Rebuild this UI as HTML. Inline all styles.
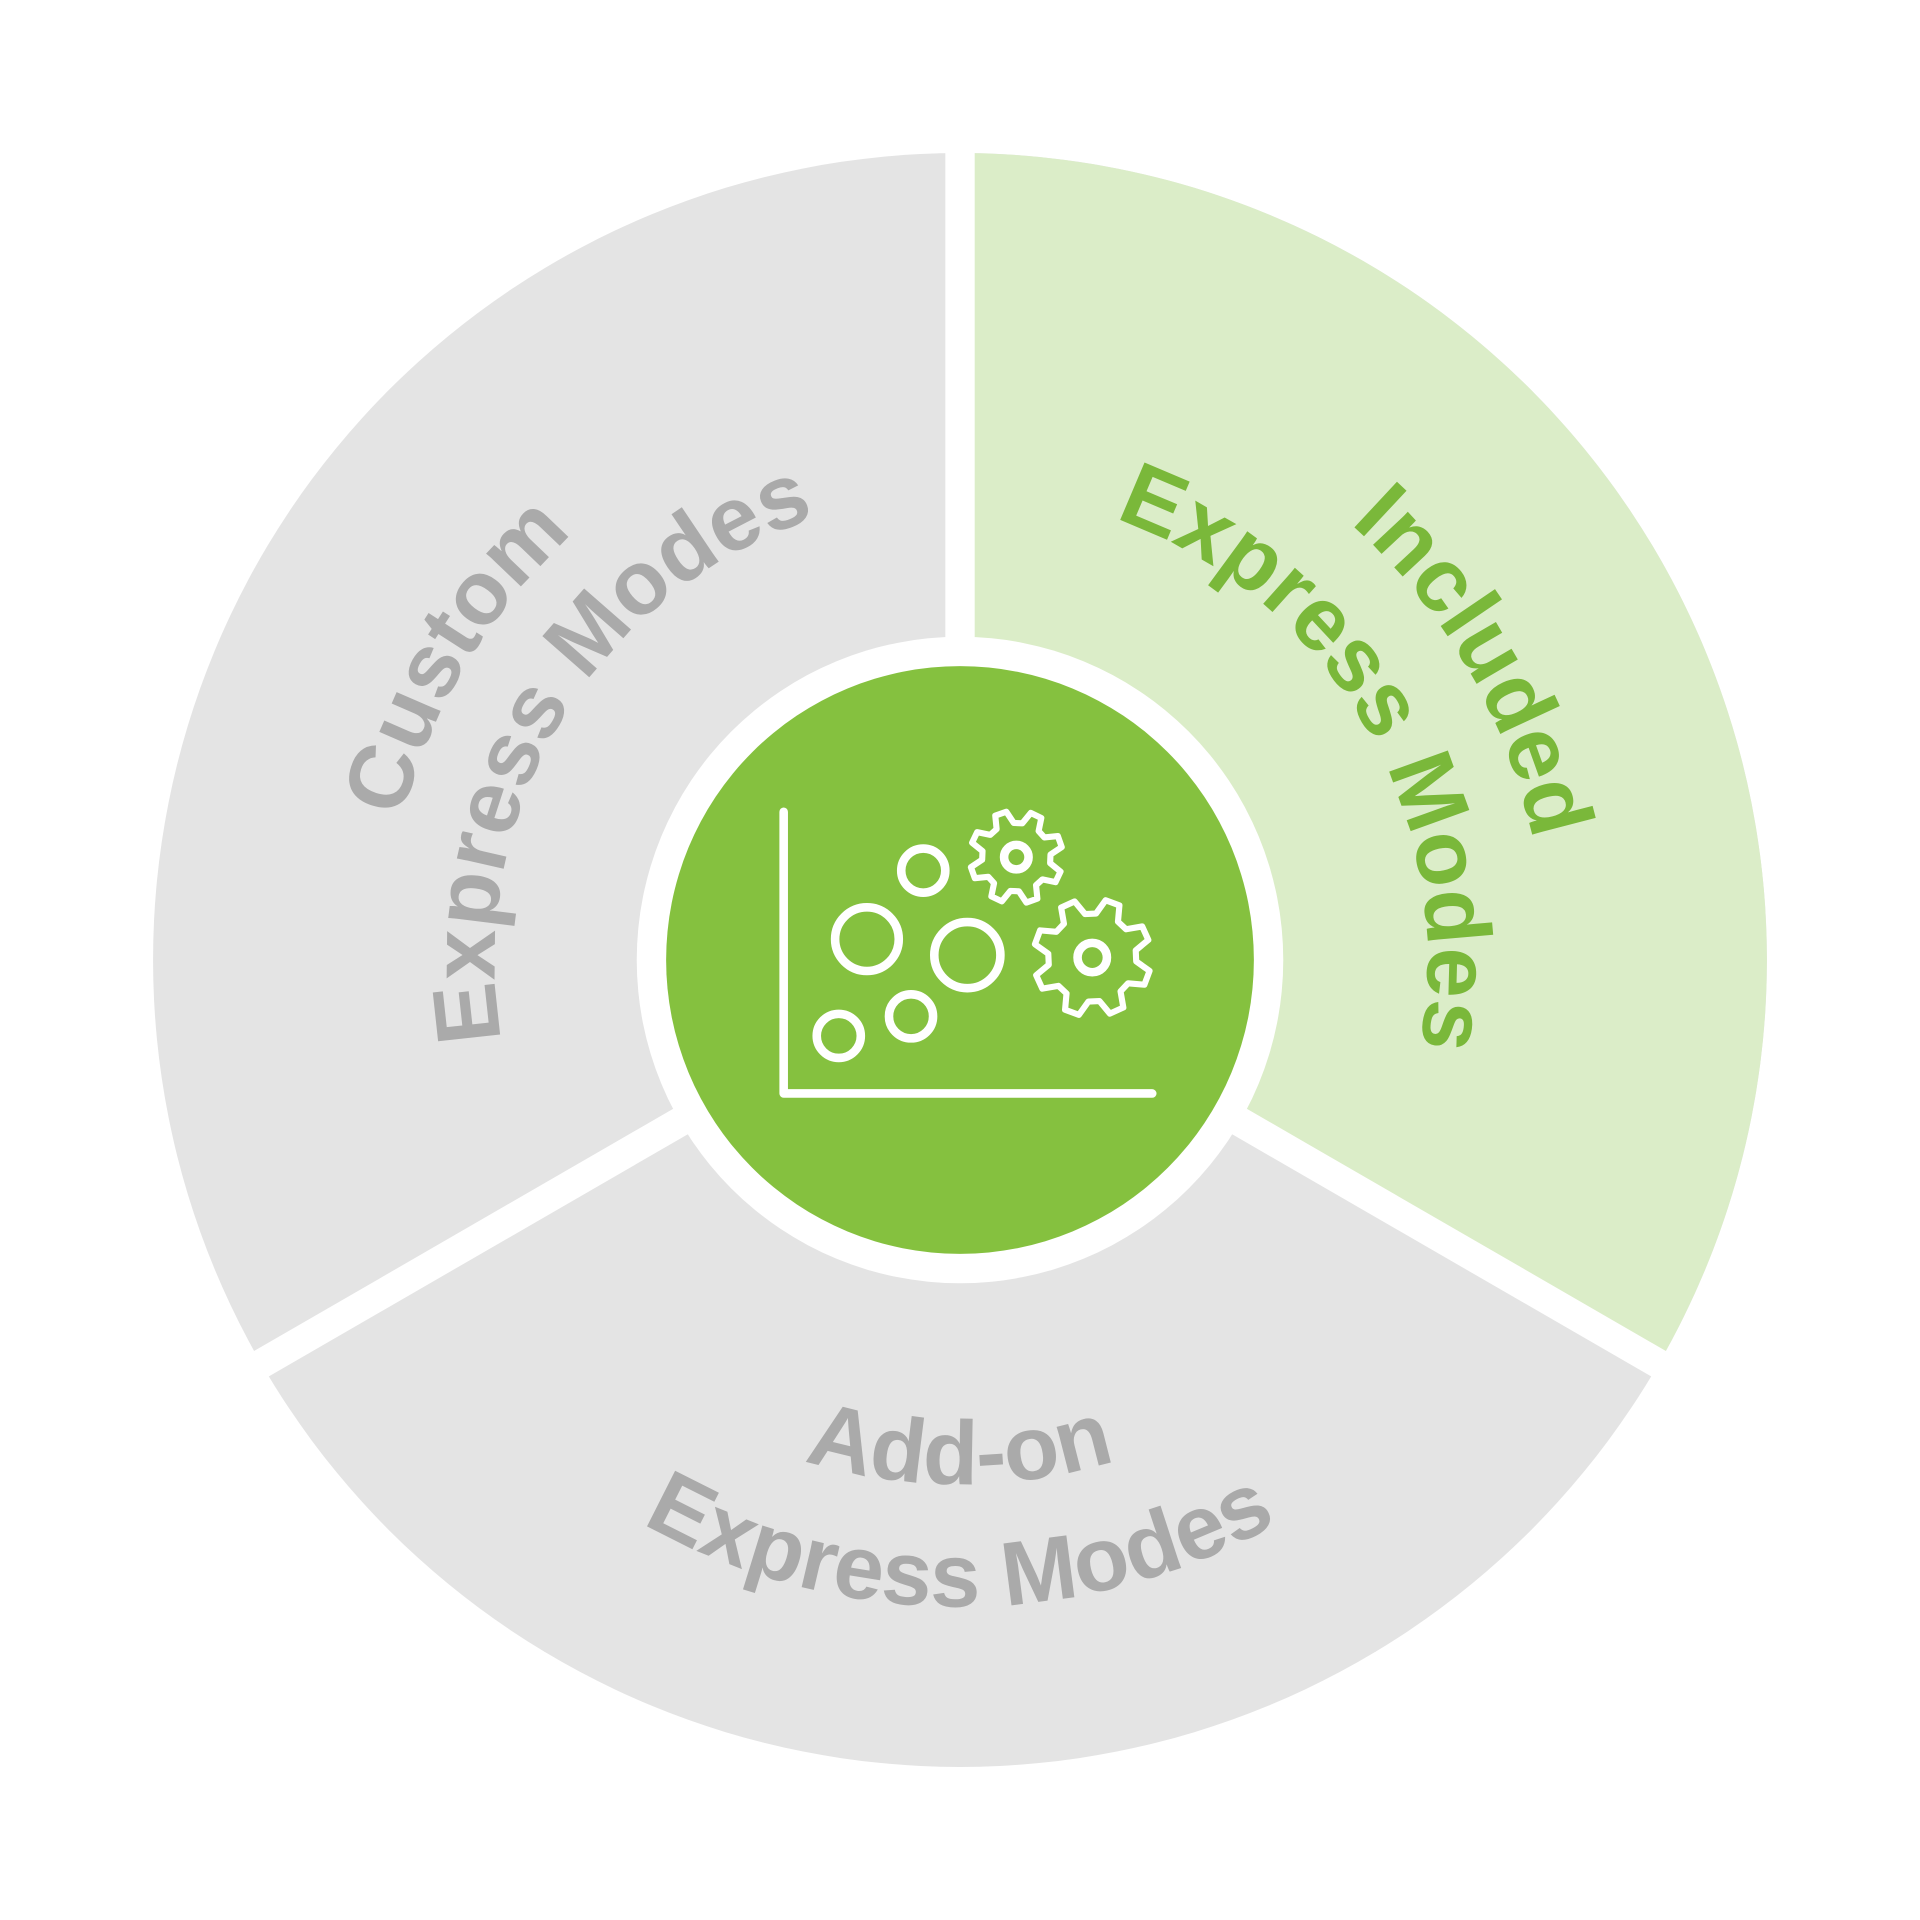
<!DOCTYPE html>
<html><head><meta charset="utf-8"><style>html,body{margin:0;padding:0;background:#fff}svg{display:block}</style></head>
<body>
<svg id="s" width="1920" height="1920" viewBox="0 0 1568 1568" xmlns="http://www.w3.org/2000/svg">
<circle cx="784" cy="784" r="659" fill="#e4e4e4"/>
<path d="M784 784 L784 125 A659 659 0 0 1 1354.7 1113.5 Z" fill="#dbedc8"/>
<circle cx="784" cy="784" r="264" fill="#fff"/>
<g stroke="#fff" stroke-width="24">
<line x1="784" y1="784" x2="784" y2="100"/>
<line x1="784" y1="784" x2="1400" y2="1140"/>
<line x1="784" y1="784" x2="168" y2="1140"/>
</g>
<circle cx="784" cy="784" r="240" fill="#85c13f"/>
<g font-family="'Liberation Sans',sans-serif" font-weight="bold" font-size="74" text-anchor="middle">
<text fill="#aaaaaa"><textPath href="#c1" startOffset="50%">Custom</textPath></text>
<text fill="#aaaaaa"><textPath href="#c2" startOffset="50%">Express Modes</textPath></text>
<text fill="#7ab83a"><textPath href="#i1" startOffset="50%">Included</textPath></text>
<text fill="#7ab83a"><textPath href="#i2" startOffset="50%">Express Modes</textPath></text>
<text fill="#aaaaaa"><textPath href="#b1" startOffset="50%">Add-on</textPath></text>
<text fill="#aaaaaa"><textPath href="#b2" startOffset="50%">Express Modes</textPath></text>
</g>
<g id="icon" fill="none" stroke="#fff" stroke-width="7" stroke-linecap="round" stroke-linejoin="round">
<polyline points="640,663 640,893 941,893"/>
<circle cx="685" cy="846" r="18"/>
<circle cx="744" cy="830" r="18"/>
<circle cx="708" cy="767" r="26"/>
<circle cx="790" cy="780" r="27"/>
<circle cx="754" cy="711" r="18"/>
<circle cx="830" cy="700" r="10"/>
<circle cx="892" cy="782" r="12"/>
<path id="g1" stroke-width="5"/>
<path id="g2" stroke-width="5"/>
</g>
<path id="c1" fill="none"/><path id="c2" fill="none"/><path id="i1" fill="none"/><path id="i2" fill="none"/><path id="b1" fill="none"/><path id="b2" fill="none"/>
</svg>
<script>
function P(a,r){a=a*Math.PI/180;return [(784+r*Math.cos(a)).toFixed(1),(784+r*Math.sin(a)).toFixed(1)];}
function arc(c,span,r,cw){var a0=cw?c-span/2:c+span/2,a1=cw?c+span/2:c-span/2;var p0=P(a0,r),p1=P(a1,r);
return "M"+p0[0]+" "+p0[1]+" A"+r+" "+r+" 0 0 "+(cw?1:0)+" "+p1[0]+" "+p1[1];}
document.getElementById('c1').setAttribute('d',arc(211,120,470,true));
document.getElementById('c2').setAttribute('d',arc(211,140,380,true));
document.getElementById('i1').setAttribute('d',arc(330,120,478,true));
document.getElementById('i2').setAttribute('d',arc(330,140,382,true));
document.getElementById('b1').setAttribute('d',arc(90,120,428,false));
document.getElementById('b2').setAttribute('d',arc(90,120,528,false));
function gear(cx,cy,R,Ri,n,rot){var d="";for(var i=0;i<n;i++){var b=rot+i*360/n,s=360/n;
var pts=[[b,Ri],[b+s*0.18,R],[b+s*0.5,R],[b+s*0.68,Ri]];
pts.forEach(function(p,j){var a=p[0]*Math.PI/180;d+=(i==0&&j==0?"M":"L")+(cx+p[1]*Math.cos(a)).toFixed(1)+" "+(cy+p[1]*Math.sin(a)).toFixed(1)+" ";});}
return d+"Z";}
document.getElementById('g1').setAttribute('d',gear(830,700,38,28,8,10));
document.getElementById('g2').setAttribute('d',gear(892,782,48,36,8,5));
</script>
</body></html>
